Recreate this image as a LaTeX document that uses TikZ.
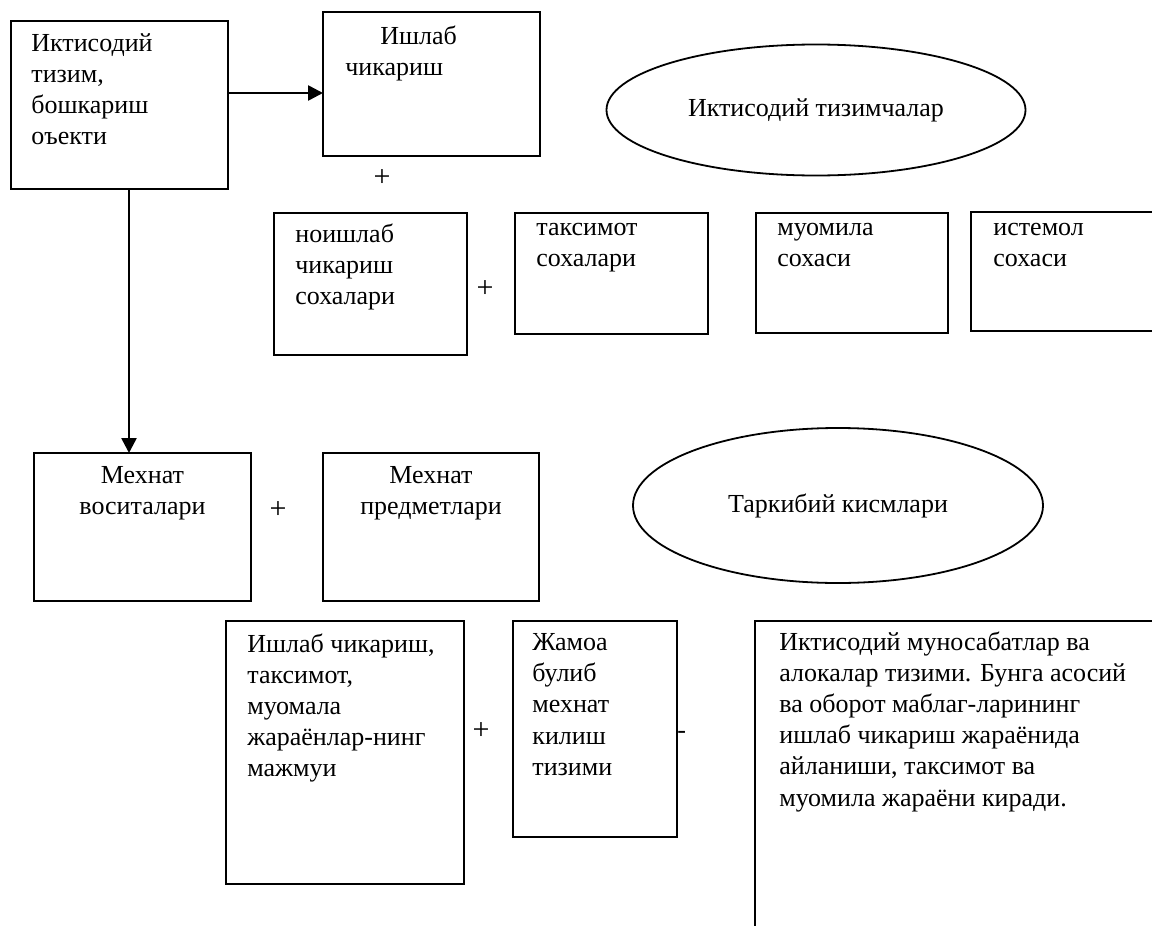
\documentclass[tikz,border=0pt]{standalone}
\usepackage{fontspec}
\setmainfont{Liberation Serif}
\usetikzlibrary{positioning,fit,shapes.geometric,arrows.meta}

\tikzset{
  box/.style={draw,line width=0.9pt,inner sep=0pt,outer sep=0pt},
  oval/.style={draw,line width=0.9pt,ellipse,inner sep=0pt},
  txt/.style={anchor=north west,align=left,inner sep=0pt,execute at begin node=\strut},
  plus/.style={inner sep=0pt,font=\fontsize{15}{18}\selectfont},
  arr/.style={line width=1.3pt,-{Triangle[length=7.5pt,width=7.5pt]}},
}

\begin{document}
\begin{tikzpicture}[x=0.5pt,y=-0.5pt,font=\fontsize{13}{15.6}\selectfont]
  \useasboundingbox (0,0) rectangle (1152,926);
  \clip (0,0) rectangle (1152,926);

  \node[box,fit={(11,21) (228,189)}] (tizim) {};
  \node[box,fit={(323,12) (540,156)}] (ishlab) {};
  \node[box,fit={(274,213) (467,355)}] (noishlab) {};
  \node[box,fit={(515,213) (708,334)}] (taksimot) {};
  \node[box,fit={(756,213) (948,333)}] (muomila) {};
  \node[box,fit={(971,212) (1170,331)}] (istemol) {};
  \node[box,fit={(34,453) (251,601)}] (vositalar) {};
  \node[box,fit={(323,453) (539,601)}] (predmet) {};
  \node[box,fit={(226,621) (464,884)}] (jarayon) {};
  \node[box,fit={(513,621) (677,837)}] (jamoa) {};
  \node[box,fit={(755,621) (1170,950)}] (munosabat) {};

  \node[oval,minimum width=209.5pt,minimum height=65.5pt] (tizimcha) at (816,110) {Иктисодий тизимчалар};
  \node[oval,minimum width=205pt,minimum height=77.5pt] (kismlar) at (838,505.5) {Таркибий кисмлари};

  \node[txt] (tizimT) at (31,33) {Иктисодий\\тизим,\\бошкариш\\оъекти};
  \node[txt] (ishlabT) at (345,25) {\hspace*{17.5pt}Ишлаб\\чикариш};
  \node[txt] (noishlabT) at (295,223) {ноишлаб\\чикариш\\сохалари};
  \node[txt] (taksimotT) at (536,223) {таксимот\\сохалари};
  \node[txt] (muomilaT) at (777,223) {муомила\\сохаси};
  \node[txt] (istemolT) at (993,223) {истемол\\сохаси};
  \node[txt,anchor=north,align=center] (vositalarT) at (142.5,466) {Мехнат\\воситалари};
  \node[txt,anchor=north,align=center] (predmetT) at (431,466) {Мехнат\\предметлари};
  \node[txt] (jarayonT) at (247,633) {Ишлаб чикариш,\\таксимот,\\муомала\\жараёнлар-нинг\\мажмуи};
  \node[txt] (jamoaT) at (532,633) {Жамоа\\булиб\\мехнат\\килиш\\тизими};
  \node[txt] (munosabatT) at (779,631) {Иктисодий муносабатлар ва\\алокалар тизими. Бунга асосий\\ва оборот маблаг-ларининг\\ишлаб чикариш жараёнида\\айланиши, таксимот ва\\муомила жараёни киради.};

  \node[plus] (plus1) at (382,178) {+};
  \node[plus] (plus2) at (485,289) {+};
  \node[plus] (plus3) at (278,510) {+};
  \node[plus] (plus4) at (481,731) {+};
  \node[inner sep=0pt,anchor=west] (minus) at (677,735) {-};

  \draw[arr] ([yshift=6pt]tizim.east) -- ([yshift=6pt]tizim.east -| ishlab.west);
  \draw[arr] ([xshift=4.75pt]tizim.south) -- ([xshift=4.75pt]tizim.south |- vositalar.north);
\end{tikzpicture}
\end{document}
